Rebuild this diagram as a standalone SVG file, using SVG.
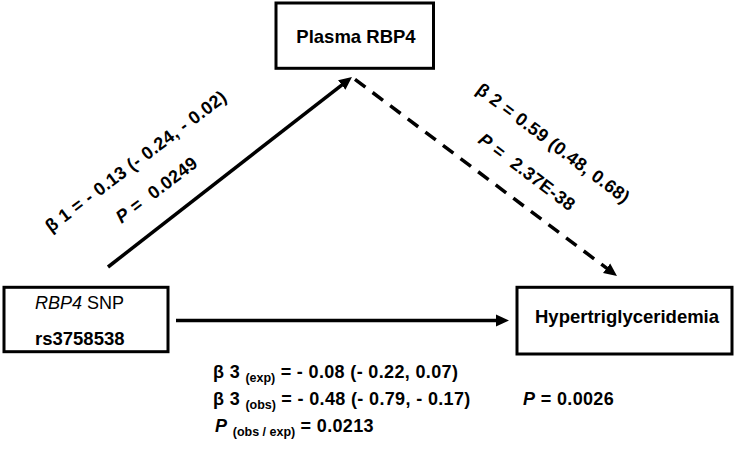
<svg xmlns="http://www.w3.org/2000/svg" width="736" height="457" viewBox="0 0 736 457">
  <style>
    text { font-family: "Liberation Sans", Arial, sans-serif; fill: #000; }
    .b { font-weight: bold; }
    .lbl { font-size: 18px; font-weight: bold; letter-spacing: 0.35px; }
    .sub { font-size: 12.5px; letter-spacing: 0; }
    .box { fill: #fff; stroke: #000; stroke-width: 3; }
    .edge { fill: none; stroke: #000; stroke-width: 3.5; }
    .dash { stroke-dasharray: 13 9; }
    .it { font-style: italic; }
  </style>
  <defs>
    <marker id="ah" markerUnits="userSpaceOnUse" markerWidth="14" markerHeight="14" viewBox="0 0 14 14" refX="2" refY="7" orient="auto">
      <path d="M0,1 L13,7 L0,13 z" fill="#000"/>
    </marker>
  </defs>
  <rect width="736" height="457" fill="#fff"/>

  <g id="connectors">
    <line class="edge" x1="108" y1="267" x2="343.3" y2="83.8" marker-end="url(#ah)"/>
    <line class="edge dash" x1="355" y1="79.3" x2="608.2" y2="269.4" marker-end="url(#ah)"/>
    <line class="edge" x1="176" y1="320.5" x2="498" y2="320.5" marker-end="url(#ah)"/>
  </g>

  <g id="node-plasma">
    <rect class="box" x="276" y="3" width="157.5" height="65.3"/>
    <text class="b" x="356" y="43" font-size="18.5" text-anchor="middle">Plasma RBP4</text>
  </g>

  <g id="node-snp">
    <rect class="box" x="4" y="287.3" width="164" height="64.4"/>
    <text x="35" y="309" font-size="18"><tspan class="it">RBP4</tspan> SNP</text>
    <text class="b" x="35" y="345" font-size="18.5">rs3758538</text>
  </g>

  <g id="node-hyper">
    <rect class="box" x="517" y="287.3" width="215" height="66.7"/>
    <text class="b" x="535" y="323" font-size="18.5">Hypertriglyceridemia</text>
  </g>

  <g id="labels">
    <text class="lbl" transform="translate(51,233) rotate(-37)">β 1 = - 0.13 (- 0.24, - 0.02)</text>
    <text class="lbl" transform="translate(121.5,224) rotate(-37)"><tspan class="it">P</tspan> = <tspan dx="6">0.0249</tspan></text>
    <text class="lbl" transform="translate(475,92) rotate(37)">β 2 = 0.59 (0.48, 0.68)</text>
    <text class="lbl" transform="translate(477,142) rotate(37)"><tspan class="it">P</tspan> = <tspan dx="6">2.37E-38</tspan></text>

    <text class="lbl" x="213" y="378">β 3 <tspan class="sub" dy="4">(exp)</tspan><tspan dy="-4"> = - 0.08 (- 0.22, 0.07)</tspan></text>
    <text class="lbl" x="213" y="405">β 3 <tspan class="sub" dy="4">(obs)</tspan><tspan dy="-4"> = - 0.48 (- 0.79, - 0.17)</tspan></text>
    <text class="lbl" x="523" y="405"><tspan class="it">P</tspan> = 0.0026</text>
    <text class="lbl" x="215" y="432"><tspan class="it">P</tspan> <tspan class="sub" dy="4">(obs / exp)</tspan><tspan dy="-4"> = 0.0213</tspan></text>
  </g>
</svg>
